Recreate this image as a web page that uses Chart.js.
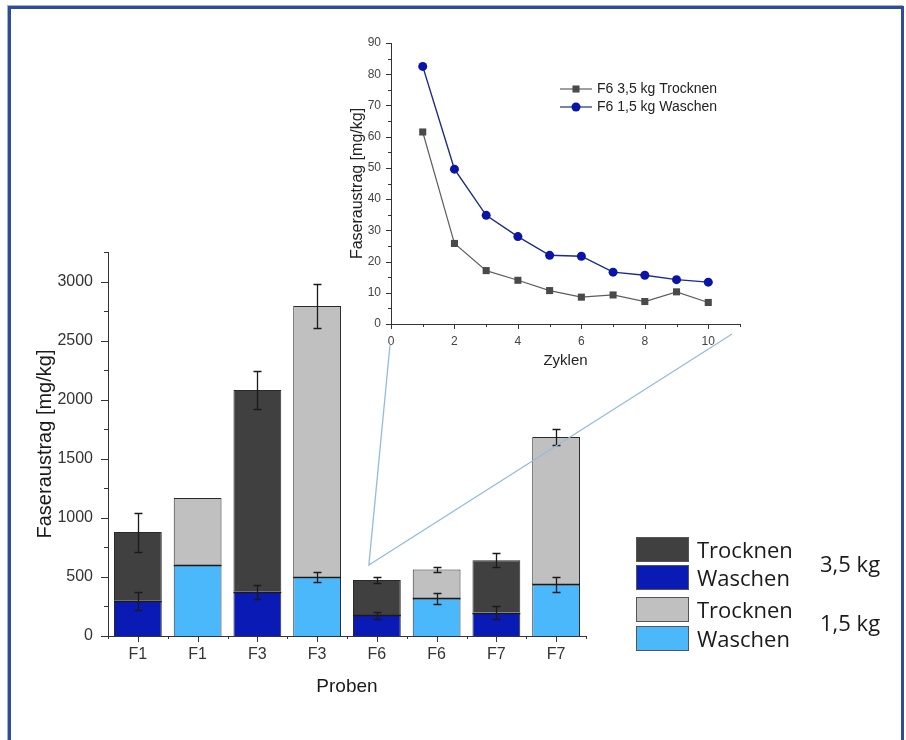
<!DOCTYPE html>
<html>
<head>
<meta charset="utf-8">
<script src="https://cdn.jsdelivr.net/npm/chart.js@4.4.1/dist/chart.umd.min.js"></script>
<style>
  html, body { margin: 0; padding: 0; background: #fff; }
  #seite { position: relative; width: 906px; height: 740px; overflow: hidden; }
  #rahmen {
    position: absolute; left: 8px; top: 6px; width: 890px; height: 780px;
    border: 3px solid #2f4c9c; border-bottom: none;
    box-shadow: -1px -1px 0 #9fb0de;
  }
  #haupt { position: absolute; left: 0; top: 0; }
  #zyklen { position: absolute; left: 330px; top: 20px; }
  .zeile {
    position: absolute; left: 636px; height: 25px; line-height: 25px;
    font-family: "Open Sans", Lato, sans-serif; font-size: 22px; color: #1a1a1a;
    white-space: nowrap;
  }
  .kasten {
    display: inline-block; width: 53px; height: 25px; border: 1px solid #555;
    vertical-align: top; margin-right: 8px; box-sizing: border-box;
  }
  .gewicht {
    position: absolute; left: 820px; font-family: "Open Sans", Lato, sans-serif;
    font-size: 22px; color: #1a1a1a; line-height: 26px;
  }
</style>
</head>
<body>
<div id="seite">
  <div id="rahmen"></div>
  <canvas id="haupt" width="906" height="740"></canvas>
  <canvas id="zyklen" width="430" height="360"></canvas>
  <div id="legende"></div>
</div>
<script>
// Balken: Faseraustrag je Probe, gestapelt Waschen + Trocknen
const proben = ['F1', 'F1', 'F3', 'F3', 'F6', 'F6', 'F7', 'F7']
const beladung = ['3,5', '1,5', '3,5', '1,5', '3,5', '1,5', '3,5', '1,5']
const waschen = [298, 605, 375, 498, 177, 318, 198, 436]
const trocknen = [582, 562, 1707, 2294, 296, 245, 444, 1248]
const fehlerWaschen = [77, null, 58, 40, 30, 45, 52, 63]
const fehlerGesamt = [165, null, 160, 187, 24, 21, 58, 68]
const yTicks = [0, 500, 1000, 1500, 2000, 2500, 3000]

// Einsatz: F6 über die Zyklen
const zyklen = [1, 2, 3, 4, 5, 6, 7, 8, 9, 10]
const f6Trocknen = [61.5, 25.8, 17.1, 14.0, 10.7, 8.6, 9.3, 7.2, 10.3, 6.9]
const f6Waschen = [82.5, 49.6, 34.8, 28.0, 22.0, 21.7, 16.6, 15.6, 14.2, 13.4]
const zyklenXTicks = [0, 2, 4, 6, 8, 10]
const zyklenYTicks = [0, 10, 20, 30, 40, 50, 60, 70, 80, 90]

const farben = {
    '3,5': { waschen: '#0a1ab4', trocknen: '#404040' },
    '1,5': { waschen: '#4cb8fc', trocknen: '#c0c0c0' }
}

Chart.defaults.font.family = "'Liberation Sans', Arial, sans-serif"
Chart.defaults.color = '#333'

const feste = werte => s => { s.ticks = werte.map(v => ({ value: v })) }
const ohneTausender = v => String(v)

// kurze Teilstriche nach außen, lang = Hauptstrich, kurz = Zwischenstrich
const striche = {
    id: 'striche',
    afterDraw(chart, args, opts) {
        const ctx = chart.ctx
        ctx.save()
        ctx.strokeStyle = opts.farbe
        ctx.lineWidth = 1
        for (const id of ['x', 'y']) {
            const s = chart.scales[id]
            const o = opts[id]
            const marks = []
            if (s.type === 'category') {
                const n = s.ticks.length
                for (let i = 0; i < n; i++) marks.push([s.getPixelForValue(i), o.lang])
                for (let i = 0; i <= n; i++) marks.push([s.getPixelForValue(i - 0.5), o.kurz])
            } else {
                for (let v = s.min; v <= s.max + 1e-9; v += o.schritt) {
                    const haupt = Math.abs(v / o.haupt - Math.round(v / o.haupt)) < 1e-9
                    marks.push([s.getPixelForValue(v), haupt ? o.lang : o.kurz])
                }
            }
            ctx.beginPath()
            for (const [p, len] of marks) {
                const q = Math.round(p) + 0.5
                if (s.isHorizontal()) {
                    ctx.moveTo(q, s.top)
                    ctx.lineTo(q, s.top + len)
                } else {
                    ctx.moveTo(s.right - len, q)
                    ctx.lineTo(s.right, q)
                }
            }
            ctx.stroke()
        }
        ctx.restore()
    }
}

// Legende im Einsatz
const zyklenLegende = {
    id: 'zyklenLegende',
    afterDraw(chart) {
        const ctx = chart.ctx
        const { right, top } = chart.chartArea
        ctx.save()
        ctx.font = "14px 'Liberation Sans', Arial, sans-serif"
        ctx.textBaseline = 'middle'
        chart.data.datasets.forEach((ds, i) => {
            const x0 = right - 180
            const y0 = top + 46 + i * 18
            ctx.strokeStyle = ds.borderColor
            ctx.lineWidth = 1.2
            ctx.beginPath()
            ctx.moveTo(x0, y0)
            ctx.lineTo(x0 + 32, y0)
            ctx.stroke()
            ctx.fillStyle = ds.backgroundColor
            Chart.helpers.drawPoint(ctx, { pointStyle: ds.pointStyle, radius: ds.pointRadius, borderWidth: 0 }, x0 + 16, y0)
            ctx.fillStyle = '#222'
            ctx.fillText(ds.label, x0 + 37, y0)
        })
        ctx.restore()
    }
}

const zyklenChart = new Chart(document.getElementById('zyklen'), {
    type: 'line',
    data: {
        datasets: [{
            label: 'F6 3,5 kg Trocknen',
            data: zyklen.map((z, i) => ({ x: z, y: f6Trocknen[i] })),
            borderColor: '#5e5e5e',
            backgroundColor: '#4a4a4a',
            borderWidth: 1.2,
            pointStyle: 'rect',
            pointRadius: 5,
            pointBorderWidth: 0
        }, {
            label: 'F6 1,5 kg Waschen',
            data: zyklen.map((z, i) => ({ x: z, y: f6Waschen[i] })),
            borderColor: '#1b2a8c',
            backgroundColor: '#0a14a8',
            borderWidth: 1.4,
            pointStyle: 'circle',
            pointRadius: 4.5,
            pointBorderWidth: 0
        }]
    },
    options: {
        responsive: false,
        animation: false,
        layout: { padding: { left: 18, top: 23, right: 20, bottom: 8 } },
        plugins: {
            legend: { display: false },
            tooltip: { enabled: false },
            striche: { farbe: '#333', x: { schritt: 1, haupt: 2, lang: 5, kurz: 3 }, y: { schritt: 5, haupt: 10, lang: 5, kurz: 3 } }
        },
        scales: {
            x: {
                type: 'linear', min: 0, max: 11,
                afterBuildTicks: feste(zyklenXTicks),
                ticks: { padding: 5, font: { size: 12 }, color: '#444' },
                grid: { display: false, tickLength: 5 },
                border: { color: '#333' },
                title: { display: true, text: 'Zyklen', font: { size: 15 }, color: '#222', padding: { top: 0, bottom: 2 } },
                afterFit(s) { s.height = 48 }
            },
            y: {
                min: 0, max: 90,
                afterBuildTicks: feste(zyklenYTicks),
                ticks: { padding: 5, font: { size: 12 }, color: '#444' },
                grid: { display: false, tickLength: 5 },
                border: { color: '#333' },
                title: { display: true, text: 'Faseraustrag [mg/kg]', font: { size: 16 }, color: '#222', padding: { top: 0, bottom: 0 } },
                afterFit(s) { s.width = 43 }
            }
        }
    },
    plugins: [striche, zyklenLegende]
})

// Trennlinie zwischen den Segmenten und Fehlerbalken an deren Oberkante
const fehlerbalken = {
    id: 'fehlerbalken',
    afterDatasetsDraw(chart) {
        const { ctx, scales: { x, y } } = chart
        const balken = (px, wert, fehler) => {
            if (fehler == null) return
            const oben = Math.round(y.getPixelForValue(wert + fehler)) + 0.5
            const unten = Math.round(y.getPixelForValue(wert - fehler)) + 0.5
            const mx = Math.round(px) + 0.5
            ctx.beginPath()
            ctx.moveTo(mx, oben); ctx.lineTo(mx, unten)
            ctx.moveTo(mx - 4, oben); ctx.lineTo(mx + 4, oben)
            ctx.moveTo(mx - 4, unten); ctx.lineTo(mx + 4, unten)
            ctx.stroke()
        }
        ctx.save()
        ctx.strokeStyle = '#1a1a1a'
        ctx.lineWidth = 1.3
        const unterteil = chart.getDatasetMeta(0).data
        unterteil.forEach(bar => {
            const ty = Math.round(bar.y) + 0.5
            ctx.beginPath()
            ctx.moveTo(bar.x - bar.width / 2, ty)
            ctx.lineTo(bar.x + bar.width / 2, ty)
            ctx.stroke()
        })
        proben.forEach((p, i) => {
            const px = x.getPixelForValue(i)
            balken(px, waschen[i], fehlerWaschen[i])
            balken(px, waschen[i] + trocknen[i], fehlerGesamt[i])
        })
        ctx.restore()
    }
}

// Verbindungslinien vom F6-Balken zum Einsatz
const lupe = {
    id: 'lupe',
    afterDraw(chart) {
        const { ctx, scales: { x, y } } = chart
        const zc = document.getElementById('zyklen')
        const hc = chart.canvas
        const dx = zc.offsetLeft - hc.offsetLeft
        const dy = zc.offsetTop - hc.offsetTop
        const zx = zyklenChart.scales.x
        const zb = zyklenChart.chartArea.bottom + dy
        const sx = x.getPixelForValue(4) - 8
        const sy = y.getPixelForValue(600)
        ctx.save()
        ctx.strokeStyle = '#94bcdc'
        ctx.lineWidth = 1.3
        ctx.beginPath()
        ctx.moveTo(zx.getPixelForValue(0) + dx - 1, zb + 21)
        ctx.lineTo(sx, sy)
        ctx.lineTo(zx.getPixelForValue(10.75) + dx, zb + 10)
        ctx.stroke()
        ctx.restore()
    }
}

new Chart(document.getElementById('haupt'), {
    type: 'bar',
    data: {
        labels: proben,
        datasets: [{
            label: 'Waschen',
            data: waschen,
            backgroundColor: beladung.map(b => farben[b].waschen)
        }, {
            label: 'Trocknen',
            data: trocknen,
            backgroundColor: beladung.map(b => farben[b].trocknen)
        }]
    },
    options: {
        responsive: false,
        animation: false,
        datasets: {
            bar: { categoryPercentage: 0.8, barPercentage: 1, borderWidth: 1, borderColor: '#2a2a2a' }
        },
        layout: { padding: { left: 20, top: 252, right: 320, bottom: 40 } },
        plugins: {
            legend: { display: false },
            tooltip: { enabled: false },
            striche: { farbe: '#333', x: { lang: 6, kurz: 3 }, y: { schritt: 250, haupt: 500, lang: 7, kurz: 4 } }
        },
        scales: {
            x: {
                stacked: true,
                ticks: { padding: 3, font: { size: 16 }, color: '#333' },
                grid: { display: false, tickLength: 6 },
                border: { color: '#333' },
                title: { display: true, text: 'Proben', font: { size: 19 }, color: '#1a1a1a', padding: { top: 0, bottom: 2 } },
                afterFit(s) { s.height = 64 }
            },
            y: {
                stacked: true, min: 0, max: 3250,
                afterBuildTicks: feste(yTicks),
                ticks: { padding: 8, font: { size: 16 }, color: '#333', callback: ohneTausender },
                grid: { display: false, tickLength: 7 },
                border: { color: '#333' },
                title: { display: true, text: 'Faseraustrag [mg/kg]', font: { size: 20 }, color: '#1a1a1a', padding: { top: 13, bottom: 0 } },
                afterFit(s) { s.width = 88 }
            }
        }
    },
    plugins: [striche, fehlerbalken, lupe]
})

// Legende rechts: je Beladung Trocknen über Waschen
const legende = document.getElementById('legende')
const zeilen = [
    { top: 537, farbe: farben['3,5'].trocknen, text: 'Trocknen' },
    { top: 565, farbe: farben['3,5'].waschen, text: 'Waschen' },
    { top: 597, farbe: farben['1,5'].trocknen, text: 'Trocknen' },
    { top: 626, farbe: farben['1,5'].waschen, text: 'Waschen' }
]
zeilen.forEach(z => {
    const div = document.createElement('div')
    div.className = 'zeile'
    div.style.top = z.top + 'px'
    const k = document.createElement('span')
    k.className = 'kasten'
    k.style.background = z.farbe
    div.appendChild(k)
    div.appendChild(document.createTextNode(z.text))
    legende.appendChild(div)
})
const gewichte = [{ top: 550, text: '3,5 kg' }, { top: 609, text: '1,5 kg' }]
gewichte.forEach(g => {
    const div = document.createElement('div')
    div.className = 'gewicht'
    div.style.top = g.top + 'px'
    div.textContent = g.text
    legende.appendChild(div)
})
</script>
</body>
</html>
